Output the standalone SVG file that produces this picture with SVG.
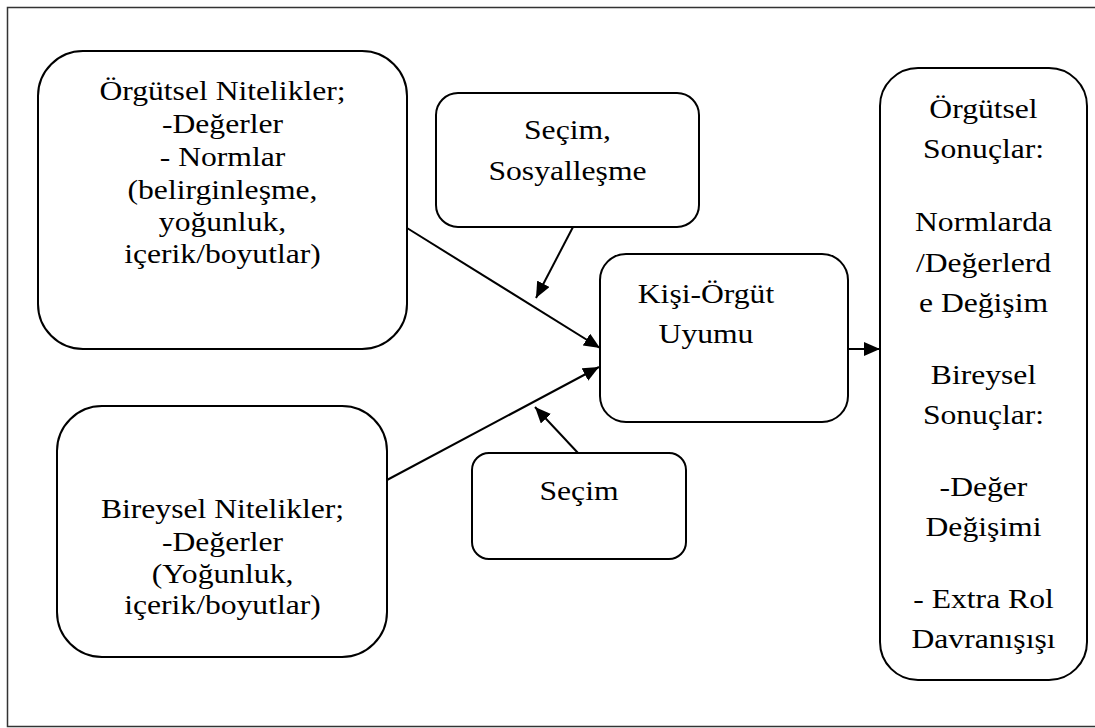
<svg xmlns="http://www.w3.org/2000/svg" width="1095" height="728" viewBox="0 0 1095 728">
<style>
.box{fill:#fff;stroke:#000;stroke-width:2}
.t{font-family:"Liberation Serif",Tinos,"Times New Roman",Times,"Nimbus Roman","Noto Serif","DejaVu Serif",FreeSerif,serif;font-size:27.5px;fill:#000;text-anchor:middle}
.c{stroke:#000;stroke-width:2;fill:none;marker-end:url(#ah)}
</style>
<defs>
<marker id="ah" markerUnits="userSpaceOnUse" markerWidth="16" markerHeight="14" refX="16" refY="7" orient="auto">
<path d="M0,0 L16,7 L0,14 z" fill="#000"/>
</marker>
</defs>
<rect x="7.5" y="7.5" width="1100" height="719" fill="#fff" stroke="#333" stroke-width="1.5"/>
<g id="connectors">
<line class="c" x1="407" y1="228" x2="600" y2="348"/>
<line class="c" x1="387" y1="480" x2="599" y2="367"/>
<line class="c" x1="573" y1="227" x2="536" y2="298"/>
<line class="c" x1="578" y1="453" x2="535" y2="407"/>
<line class="c" x1="848" y1="349" x2="880" y2="349"/>
</g>
<g id="orgutsel-nitelikler">
<rect class="box" x="38" y="51" width="369" height="298" rx="45"/>
<g transform="translate(222.5,0) scale(1.15,1)">
<text class="t" x="0" y="100">Örgütsel Nitelikler;</text>
<text class="t" x="0" y="133">-Değerler</text>
<text class="t" x="0" y="166">- Normlar</text>
<text class="t" x="0" y="199">(belirginleşme,</text>
<text class="t" x="0" y="231">yoğunluk,</text>
<text class="t" x="0" y="263">içerik/boyutlar)</text>
</g>
</g>
<g id="secim-sosyallesme">
<rect class="box" x="436" y="93" width="263" height="134" rx="22"/>
<g transform="translate(567.5,0) scale(1.15,1)">
<text class="t" x="0" y="139">Seçim,</text>
<text class="t" x="0" y="180">Sosyalleşme</text>
</g>
</g>
<g id="kisi-orgut-uyumu">
<rect class="box" x="600" y="254" width="248" height="168" rx="26"/>
<g transform="translate(706,0) scale(1.15,1)">
<text class="t" x="0" y="303">Kişi-Örgüt</text>
<text class="t" x="0" y="343">Uyumu</text>
</g>
</g>
<g id="bireysel-nitelikler">
<rect class="box" x="57" y="406" width="330" height="251" rx="45"/>
<g transform="translate(222.5,0) scale(1.15,1)">
<text class="t" x="0" y="518">Bireysel Nitelikler;</text>
<text class="t" x="0" y="551">-Değerler</text>
<text class="t" x="0" y="583">(Yoğunluk,</text>
<text class="t" x="0" y="614">içerik/boyutlar)</text>
</g>
</g>
<g id="secim">
<rect class="box" x="472" y="453" width="214" height="106" rx="17"/>
<g transform="translate(579,0) scale(1.15,1)">
<text class="t" x="0" y="500">Seçim</text>
</g>
</g>
<g id="sonuclar">
<rect class="box" x="880" y="68" width="207" height="612" rx="38"/>
<g transform="translate(983.5,0) scale(1.15,1)">
<text class="t" x="0" y="118">Örgütsel</text>
<text class="t" x="0" y="158">Sonuçlar:</text>
<text class="t" x="0" y="231">Normlarda</text>
<text class="t" x="0" y="272">/Değerlerd</text>
<text class="t" x="0" y="312">e Değişim</text>
<text class="t" x="0" y="384">Bireysel</text>
<text class="t" x="0" y="424">Sonuçlar:</text>
<text class="t" x="0" y="496">-Değer</text>
<text class="t" x="0" y="536">Değişimi</text>
<text class="t" x="0" y="608">- Extra Rol</text>
<text class="t" x="0" y="648">Davranışışı</text>
</g>
</g>
</svg>
